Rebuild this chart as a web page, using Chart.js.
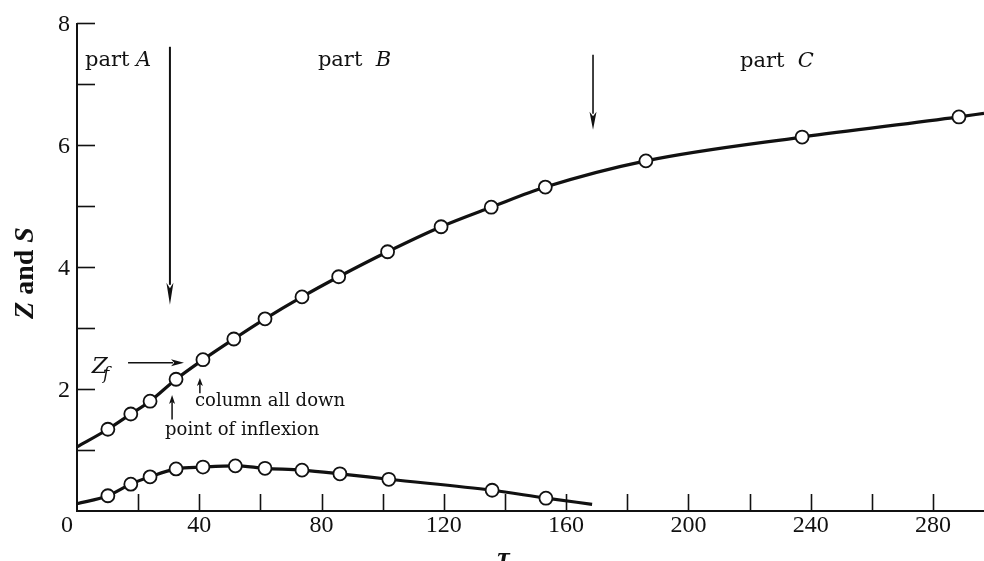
<!DOCTYPE html>
<html>
<head>
<meta charset="utf-8">
<script src="https://cdn.jsdelivr.net/npm/chart.js@4.4.1/dist/chart.umd.min.js"></script>
<style>
html,body{margin:0;padding:0;background:#fff;overflow:hidden;}
#wrap{width:984px;height:561px;}
</style>
</head>
<body>
<div id="wrap"><canvas id="c" width="984" height="561"></canvas></div>
<script>
// ---- data ----
const zTau = [10.1, 17.6, 23.9, 32.4, 41.2, 51.3, 61.5, 73.6, 85.6, 101.6, 119.1, 135.5, 153.2, 186.1, 237.2, 288.5];
const zValues = [1.34, 1.59, 1.80, 2.16, 2.48, 2.82, 3.15, 3.51, 3.84, 4.25, 4.66, 4.98, 5.31, 5.74, 6.13, 6.46];
const sTau = [10.1, 17.6, 23.9, 32.4, 41.2, 51.8, 61.5, 73.6, 86.0, 102.0, 135.8, 153.4];
const sValues = [0.25, 0.44, 0.56, 0.69, 0.72, 0.74, 0.70, 0.67, 0.61, 0.52, 0.34, 0.21];
// curve end values (where the drawn curves start and stop)
const zCurveStart = [0, 1.05];
const zCurveEnd = [296.7, 6.52];
const sCurveStart = [0, 0.12];
const sCurveEnd = [168.5, 0.11];
// axes
const xMin = 0, xMax = 296.7, yMin = 0, yMax = 8;
const xTickValues = [20, 40, 60, 80, 100, 120, 140, 160, 180, 200, 220, 240, 260, 280];
const xTickLabels = ["0", "40", "80", "120", "160", "200", "240", "280"];
const yTickValues = [1, 2, 3, 4, 5, 6, 7, 8];
const yTickLabels = ["2", "4", "6", "8"];
const yTitle = ["Z", " and ", "S"];
const xTitle = "τ";
// part boundaries
const partBoundaryAB = 30.4;
const partBoundaryBC = 168.8;

const pts = (xs, ys) => xs.map((x, i) => ({x: x, y: ys[i]}));
const zCurve = [{x: zCurveStart[0], y: zCurveStart[1]}].concat(pts(zTau, zValues), [{x: zCurveEnd[0], y: zCurveEnd[1]}]);
const sCurve = [{x: sCurveStart[0], y: sCurveStart[1]}].concat(pts(sTau, sValues), [{x: sCurveEnd[0], y: sCurveEnd[1]}]);

const SERIF = '"Liberation Serif", "DejaVu Serif", serif';
const ANN = '"DejaVu Serif", "Liberation Serif", serif';

function arrow(ctx, x1, y1, x2, y2, len, hw, lw) {
  const a = Math.atan2(y2 - y1, x2 - x1);
  const bx = x2 - Math.cos(a) * len, by = y2 - Math.sin(a) * len;
  ctx.beginPath();
  ctx.lineWidth = lw;
  ctx.moveTo(x1, y1);
  ctx.lineTo(bx + Math.cos(a) * 2, by + Math.sin(a) * 2);
  ctx.stroke();
  ctx.beginPath();
  ctx.moveTo(x2, y2);
  ctx.lineTo(bx - Math.sin(a) * hw, by + Math.cos(a) * hw);
  ctx.lineTo(bx + Math.cos(a) * len * 0.25, by + Math.sin(a) * len * 0.25);
  ctx.lineTo(bx + Math.sin(a) * hw, by - Math.cos(a) * hw);
  ctx.closePath();
  ctx.fill();
}

function mixedText(ctx, parts, x, y) {
  let cx = x;
  parts.forEach(p => {
    ctx.font = p[1];
    ctx.fillText(p[0], cx, y);
    cx += ctx.measureText(p[0]).width;
  });
}

const axesPlugin = {
  id: 'axesPlugin',
  beforeDraw(chart) {
    const ctx = chart.ctx;
    ctx.save();
    ctx.fillStyle = '#fff';
    ctx.fillRect(0, 0, chart.width, chart.height);
    ctx.restore();
  },
  beforeDatasetsDraw(chart) {
    const ctx = chart.ctx, xs = chart.scales.x, ys = chart.scales.y;
    const a = chart.chartArea;
    ctx.save();
    ctx.strokeStyle = '#111';
    ctx.fillStyle = '#111';
    ctx.lineWidth = 2;
    ctx.beginPath();
    ctx.moveTo(a.left, ys.getPixelForValue(yMax));
    ctx.lineTo(a.left, ys.getPixelForValue(yMin));
    ctx.lineTo(a.right, ys.getPixelForValue(yMin));
    ctx.stroke();
    yTickValues.forEach(v => {
      const py = Math.round(ys.getPixelForValue(v)) + 0.5;
      ctx.beginPath();
      ctx.lineWidth = 1.6;
      ctx.moveTo(a.left, py);
      ctx.lineTo(a.left + 18, py);
      ctx.stroke();
    });
    xTickValues.forEach(v => {
      const px = Math.round(xs.getPixelForValue(v)) + 0.5;
      ctx.beginPath();
      ctx.lineWidth = 1.6;
      ctx.moveTo(px, a.bottom);
      ctx.lineTo(px, a.bottom - 17);
      ctx.stroke();
    });
    ctx.font = '24px ' + SERIF;
    ctx.textAlign = 'right';
    ctx.textBaseline = 'middle';
    yTickLabels.forEach(t => {
      ctx.fillText(t, a.left - 7, ys.getPixelForValue(+t) + 2);
    });
    ctx.textAlign = 'center';
    ctx.textBaseline = 'middle';
    xTickLabels.forEach(t => {
      const v = +t;
      const px = xs.getPixelForValue(v) + (v === 0 ? -10 : 0);
      ctx.fillText(t, px, a.bottom + 15);
    });
    ctx.save();
    ctx.translate(26, 273);
    ctx.rotate(-Math.PI / 2);
    ctx.textBaseline = 'middle';
    ctx.textAlign = 'left';
    const f1 = 'italic bold 28px ' + SERIF, f2 = 'bold 28px ' + SERIF;
    ctx.font = f1; const w1 = ctx.measureText(yTitle[0]).width;
    ctx.font = f2; const w2 = ctx.measureText(yTitle[1]).width;
    ctx.font = f1; const w3 = ctx.measureText(yTitle[2]).width;
    mixedText(ctx, [[yTitle[0], f1], [yTitle[1], f2], [yTitle[2], f1]], -(w1 + w2 + w3) / 2, 0);
    ctx.restore();
    ctx.font = 'italic bold 28px ' + SERIF;
    ctx.textAlign = 'center';
    ctx.textBaseline = 'alphabetic';
    ctx.fillText(xTitle, xs.getPixelForValue(139.5), 566);
    ctx.restore();
  },
  afterDraw(chart) {
    const ctx = chart.ctx, xs = chart.scales.x, ys = chart.scales.y;
    const X = v => xs.getPixelForValue(v), Y = v => ys.getPixelForValue(v);
    ctx.save();
    ctx.strokeStyle = '#111';
    ctx.fillStyle = '#111';
    ctx.textBaseline = 'middle';
    ctx.textAlign = 'left';
    const fN = '21px ' + ANN, fI = 'italic 21px ' + ANN;
    mixedText(ctx, [['part ', fN], ['A', fI]], X(2.6), Y(7.38));
    mixedText(ctx, [['part  ', fN], ['B', fI]], X(78.8), Y(7.38));
    mixedText(ctx, [['part  ', fN], ['C', fI]], X(216.9), Y(7.36));
    arrow(ctx, X(partBoundaryAB), Y(7.61), X(partBoundaryAB), Y(3.38), 22, 3.5, 2);
    arrow(ctx, X(partBoundaryBC), Y(7.48), X(partBoundaryBC), Y(6.25), 18, 3.5, 1.6);
    ctx.textBaseline = 'alphabetic';
    ctx.font = 'italic 23px ' + ANN;
    ctx.fillText('Z', X(4.8), Y(2.27));
    ctx.font = 'italic 17px ' + ANN;
    ctx.fillText('f', X(8.5), Y(2.16));
    arrow(ctx, X(16.7), Y(2.43), X(35.0), Y(2.43), 13, 3.5, 1.6);
    arrow(ctx, X(31.1), Y(1.50), X(31.1), Y(1.90), 9, 3, 1.5);
    arrow(ctx, X(40.2), Y(1.93), X(40.2), Y(2.18), 8, 3, 1.5);
    ctx.textBaseline = 'middle';
    ctx.font = '18px ' + ANN;
    ctx.fillText('column all down', X(38.6), Y(1.79));
    ctx.fillText('point of inflexion', X(28.8), Y(1.33));
    ctx.restore();
  }
};

new Chart(document.getElementById('c'), {
  type: 'scatter',
  data: {
    datasets: [
      {label: 'Z points', data: pts(zTau, zValues), pointRadius: 6.5, pointBackgroundColor: '#fff', pointBorderColor: '#111', pointBorderWidth: 1.8, showLine: false, clip: false},
      {label: 'S points', data: pts(sTau, sValues), pointRadius: 6.5, pointBackgroundColor: '#fff', pointBorderColor: '#111', pointBorderWidth: 1.8, showLine: false, clip: false},
      {label: 'Z curve', data: zCurve, showLine: true, pointRadius: 0, borderColor: '#111', borderWidth: 3.2, cubicInterpolationMode: 'monotone', fill: false, clip: false},
      {label: 'S curve', data: sCurve, showLine: true, pointRadius: 0, borderColor: '#111', borderWidth: 3.2, cubicInterpolationMode: 'monotone', fill: false, clip: false}
    ]
  },
  options: {
    responsive: false,
    animation: false,
    devicePixelRatio: 1,
    layout: {autoPadding: false, padding: {left: 77, right: 0, top: 23, bottom: 50}},
    plugins: {legend: {display: false}, tooltip: {enabled: false}, title: {display: false}},
    scales: {
      x: {type: 'linear', min: xMin, max: xMax, display: false},
      y: {type: 'linear', min: yMin, max: yMax, display: false}
    },
    events: []
  },
  plugins: [axesPlugin]
});
</script>
</body>
</html>
